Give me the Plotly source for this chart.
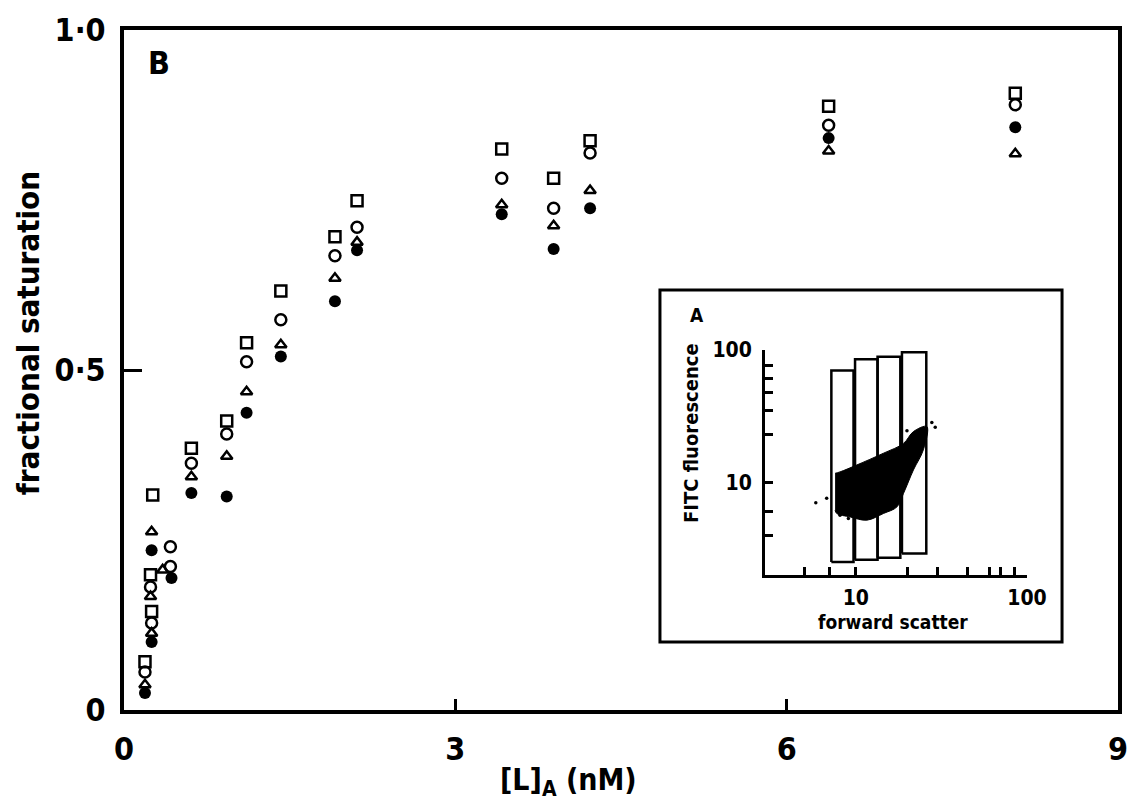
import plotly.graph_objects as go

# ---------------- data (panel B) ----------------
sq_x = [0.19, 0.25, 0.24, 0.26, 0.61, 0.93, 1.11, 1.42, 1.91, 2.11, 3.42, 3.89, 4.22, 6.38, 8.07]
sq_y = [0.071, 0.145, 0.199, 0.316, 0.385, 0.425, 0.540, 0.616, 0.696, 0.749, 0.825, 0.782, 0.837, 0.888, 0.907]

ci_x = [0.19, 0.25, 0.24, 0.42, 0.42, 0.61, 0.93, 1.11, 1.42, 1.91, 2.11, 3.42, 3.89, 4.22, 6.38, 8.07]
ci_y = [0.056, 0.128, 0.181, 0.211, 0.240, 0.363, 0.406, 0.512, 0.574, 0.668, 0.710, 0.782, 0.738, 0.819, 0.860, 0.890]

tr_x = [0.19, 0.25, 0.24, 0.35, 0.25, 0.61, 0.93, 1.11, 1.42, 1.91, 2.11, 3.42, 3.89, 4.22, 6.38, 8.07]
tr_y = [0.037, 0.113, 0.167, 0.206, 0.262, 0.343, 0.373, 0.468, 0.537, 0.635, 0.688, 0.743, 0.712, 0.764, 0.822, 0.818]

fi_x = [0.19, 0.25, 0.43, 0.25, 0.61, 0.93, 1.11, 1.42, 1.91, 2.11, 3.42, 3.89, 4.22, 6.38, 8.07]
fi_y = [0.025, 0.100, 0.194, 0.235, 0.319, 0.314, 0.437, 0.520, 0.601, 0.676, 0.729, 0.678, 0.738, 0.841, 0.857]

x_tickvals = [0, 3, 6, 9]
x_ticktext = ["0", "3", "6", "9"]
y_tickvals = [0, 0.5, 1.0]
y_ticktext = ["0", "0·5", "1·0"]

# ---------------- data (inset A) ----------------
gate_x0 = [7.2, 9.9, 13.4, 18.6]
gate_x1 = [9.7, 13.4, 18.2, 25.8]
gate_y0 = [2.5, 2.6, 2.7, 2.9]
gate_y1 = [70, 85, 89, 96]

cloud_x = [7.57, 8.09, 10.1, 14.5, 19.0, 21.7, 26.0, 24.8, 21.7, 19.0, 17.4, 14.5, 11.6, 9.27, 7.74, 7.57]
cloud_y = [11.7, 12.0, 13.5, 16.6, 19.7, 24.2, 26.4, 17.6, 12.4, 8.26, 6.53, 5.82, 5.18, 5.48, 5.82, 6.17]

out_x = [5.84, 6.76, 8.09, 9.05, 19.9, 27.8, 29.1]
out_y = [7.0, 7.57, 5.65, 5.33, 24.6, 28.3, 26.1]

in_x_tickvals = [5, 7, 10, 20, 30, 45, 60, 70, 85, 100]
in_x_ticktext = ["", "", "10", "", "", "", "", "", "", "100"]
in_y_tickvals = [4, 6, 10, 23, 35, 48, 61, 77, 100]
in_y_ticktext = ["", "", "10", "", "", "", "", "", "100"]

FONT = "DejaVu Sans Condensed, DejaVu Sans"

fig = go.Figure()

fig.add_trace(go.Scatter(x=fi_x, y=fi_y, mode="markers",
                         marker=dict(symbol="circle", size=12, color="black"),
                         showlegend=False))
fig.add_trace(go.Scatter(x=tr_x, y=tr_y, mode="markers",
                         marker=dict(symbol="triangle-up-open", size=10, color="black",
                                     line=dict(width=2.5, color="black")),
                         showlegend=False))
fig.add_trace(go.Scatter(x=ci_x, y=ci_y, mode="markers",
                         marker=dict(symbol="circle-open", size=11, color="black",
                                     line=dict(width=2.5, color="black")),
                         showlegend=False))
fig.add_trace(go.Scatter(x=sq_x, y=sq_y, mode="markers",
                         marker=dict(symbol="square-open", size=11, color="black",
                                     line=dict(width=2.5, color="black")),
                         showlegend=False))

# inset: cloud
fig.add_trace(go.Scatter(x=cloud_x, y=cloud_y, xaxis="x2", yaxis="y2", mode="lines",
                         fill="toself", fillcolor="black",
                         line=dict(color="black", width=1, shape="spline"),
                         showlegend=False))
fig.add_trace(go.Scatter(x=out_x, y=out_y, xaxis="x2", yaxis="y2", mode="markers",
                         marker=dict(size=3.5, color="black"), showlegend=False))
# inset: gates
for a, b, c, d in zip(gate_x0, gate_x1, gate_y0, gate_y1):
    fig.add_trace(go.Scatter(x=[a, b, b, a, a], y=[c, c, d, d, c], xaxis="x2", yaxis="y2",
                             mode="lines", line=dict(color="black", width=2.5),
                             showlegend=False))


def ann(text, x, y, size, angle=0):
    return dict(text=text, x=x, y=y, xref="paper", yref="paper", showarrow=False,
                xanchor="center", yanchor="middle", textangle=angle,
                font=dict(size=size, family=FONT, weight="bold"))


fig.update_layout(
    width=1129, height=810,
    margin=dict(l=124, r=11, t=30, b=100, autoexpand=False),
    paper_bgcolor="white", plot_bgcolor="white",
    font=dict(family=FONT, color="black"),
    xaxis=dict(range=[0, 9], tickvals=x_tickvals, ticktext=x_ticktext, automargin=False,
               showline=True, mirror=True, linewidth=4, linecolor="black",
               ticks="inside", ticklen=11, tickwidth=3, tickcolor="black",
               showgrid=False, zeroline=False, ticklabelstandoff=8,
               ticklabeloverflow="allow",
               tickfont=dict(size=32, family=FONT, weight="bold")),
    yaxis=dict(range=[0, 1], tickvals=y_tickvals, ticktext=y_ticktext, automargin=False,
               showline=True, mirror=True, linewidth=4, linecolor="black",
               ticks="inside", ticklen=18, tickwidth=3, tickcolor="black",
               showgrid=False, zeroline=False, ticklabelstandoff=8,
               ticklabeloverflow="allow",
               tickfont=dict(size=32, family=FONT, weight="bold")),
    xaxis2=dict(type="log", domain=[0.6449, 0.9085], range=[0.47, 2.0], anchor="y2",
                tickvals=in_x_tickvals, ticktext=in_x_ticktext, automargin=False,
                showline=True, linewidth=3, linecolor="black",
                ticks="inside", ticklen=8, tickwidth=2.5, tickcolor="black",
                showgrid=False, zeroline=False, ticklabelstandoff=2,
                tickfont=dict(size=21, family=FONT, weight="bold")),
    yaxis2=dict(type="log", domain=[0.1985, 0.5294], range=[0.30, 2.0], anchor="x2",
                tickvals=in_y_tickvals, ticktext=in_y_ticktext, automargin=False,
                showline=True, linewidth=3, linecolor="black",
                ticks="inside", ticklen=8, tickwidth=2.5, tickcolor="black",
                showgrid=False, zeroline=False, ticklabelstandoff=6,
                tickfont=dict(size=21, family=FONT, weight="bold")),
    shapes=[dict(type="rect", xref="paper", yref="paper",
                 x0=0.5392, x1=0.9437, y0=0.10, y1=0.6176,
                 line=dict(color="black", width=3), fillcolor="white", layer="below")],
    annotations=[
        ann("B", 0.0352, 0.951, 32),
        ann("fractional saturation", -0.0966, 0.554, 31, -90),
        ann("[L]<sub>A</sub> (nM)", 0.4467, -0.105, 30),
        ann("A", 0.5765, 0.5809, 19),
        ann("FITC fluorescence", 0.5704, 0.4074, 20, -90),
        ann("forward scatter", 0.7736, 0.1294, 19),
    ],
)

fig.write_html("out.html")
